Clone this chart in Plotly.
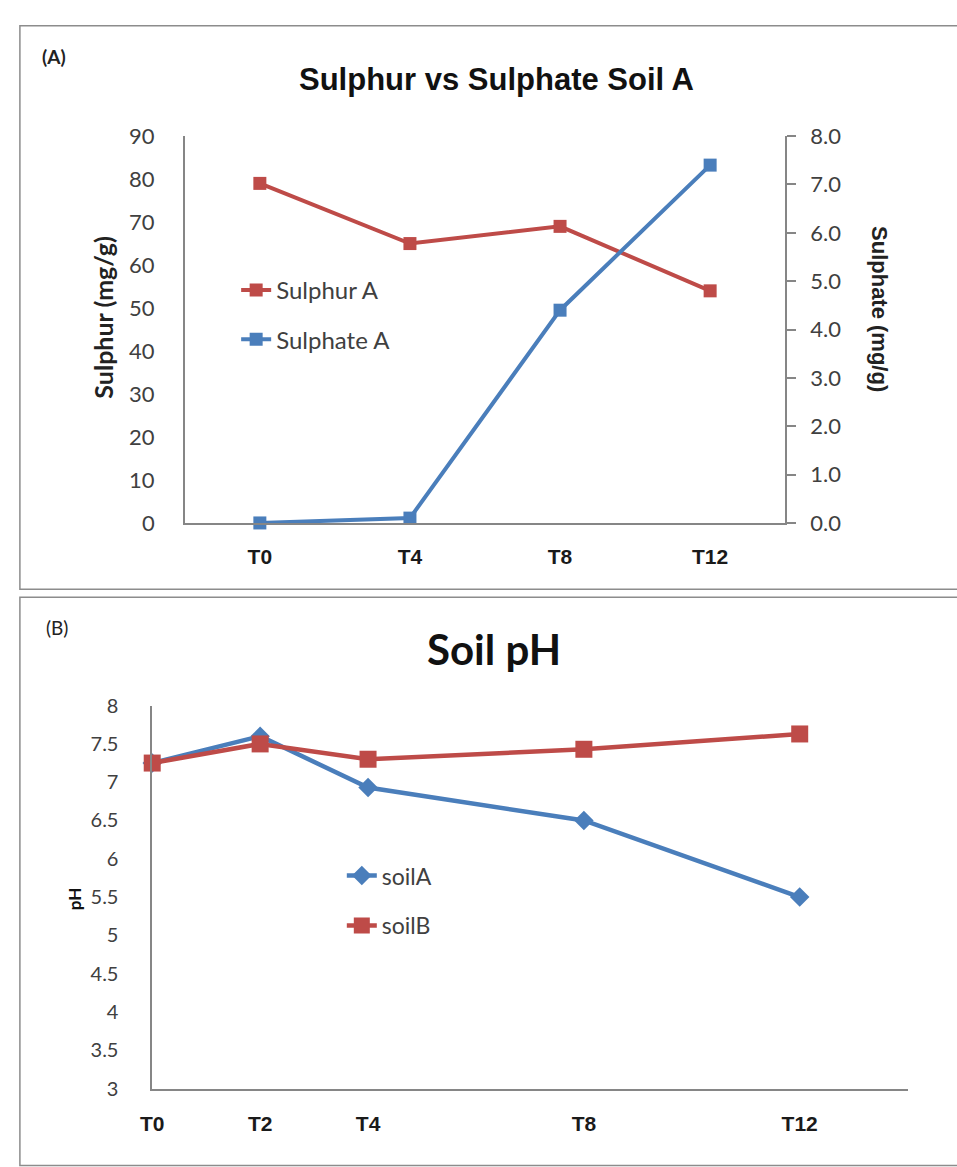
import plotly.graph_objects as go

W, H = 957, 1167

# ---- data ----
times_a = ["T0", "T4", "T8", "T12"]
sulphur_a = [79, 65, 69, 54]
sulphate_a = [0.0, 0.1, 4.4, 7.4]

times_b = [0, 2, 4, 8, 12]
time_labels_b = ["T0", "T2", "T4", "T8", "T12"]
soil_a_ph = [7.25, 7.6, 6.93, 6.5, 5.5]
soil_b_ph = [7.25, 7.5, 7.3, 7.43, 7.63]

RED = "#BE4B48"
BLUE = "#4A7EBB"
AXC = "#868686"
TXT = "#404040"


def px(x):
    return x / W


def py(y):
    return 1 - y / H


def note(text, x, y, size, family="Lato", color="#222", angle=0):
    return dict(text=text, x=px(x), y=py(y), xref="paper", yref="paper",
                xanchor="center", yanchor="middle", showarrow=False,
                textangle=angle, font=dict(family=family, size=size, color=color))


fig = go.Figure()

fig.add_trace(go.Scatter(
    x=times_a, y=sulphur_a, name="Sulphur A", mode="lines+markers",
    line=dict(color=RED, width=4), marker=dict(symbol="square", size=13, color=RED),
    xaxis="x", yaxis="y", legend="legend", legendgroup="a1", cliponaxis=False))
fig.add_trace(go.Scatter(
    x=times_a, y=sulphate_a, name="Sulphate A", mode="lines+markers",
    line=dict(color=BLUE, width=4), marker=dict(symbol="square", size=13, color=BLUE),
    xaxis="x", yaxis="y2", legend="legend", legendgroup="a2", cliponaxis=False))

fig.add_trace(go.Scatter(
    x=times_b, y=soil_a_ph, name="soilA", mode="lines+markers",
    line=dict(color=BLUE, width=4.5), marker=dict(symbol="diamond", size=15, color=BLUE),
    xaxis="x3", yaxis="y3", legend="legend2", legendgroup="b1", cliponaxis=False))
fig.add_trace(go.Scatter(
    x=times_b, y=soil_b_ph, name="soilB", mode="lines+markers",
    line=dict(color=RED, width=4.5), marker=dict(symbol="square", size=17, color=RED),
    xaxis="x3", yaxis="y3", legend="legend2", legendgroup="b2", cliponaxis=False))

tickfont = dict(family="Lato", size=22, color=TXT)
xtickfont = dict(family="Liberation Sans", size=21, color="#1a1a1a", weight="bold")

fig.update_layout(
    width=W, height=H, margin=dict(l=0, r=0, t=0, b=0),
    paper_bgcolor="white", plot_bgcolor="white",
    font=dict(family="Lato", color=TXT),
    xaxis=dict(domain=[px(175), px(783)], anchor="y", type="category",
               range=[-0.5, 3.5], showline=True, linecolor=AXC, linewidth=1.5,
               showgrid=False, zeroline=False, ticks="", tickfont=xtickfont,
               ticklabelstandoff=14),
    yaxis=dict(domain=[py(521), py(125)], anchor="x", range=[0, 90], dtick=10,
               showline=True, linecolor=AXC, linewidth=1.5, showgrid=False,
               zeroline=False, ticks="", tickfont=tickfont, ticklabelstandoff=24),
    yaxis2=dict(domain=[py(521), py(125)], anchor="x", overlaying="y", side="right",
                range=[0, 8], dtick=1, tickformat=".1f", showline=True, linecolor=AXC,
                linewidth=1.5, showgrid=False, zeroline=False, ticks="outside",
                ticklen=9, tickcolor=AXC, tickwidth=1.5, tickfont=tickfont,
                ticklabelstandoff=10),
    xaxis3=dict(domain=[px(142), px(907)], anchor="y3", range=[0, 14],
                tickvals=times_b, ticktext=time_labels_b, showline=True,
                linecolor=AXC, linewidth=1.5, showgrid=False, zeroline=False,
                ticks="", tickfont=xtickfont, ticklabelstandoff=15),
    yaxis3=dict(domain=[py(1100), py(708)], anchor="x3", range=[3, 8], dtick=0.5,
                tickformat="~g", showline=True, linecolor=AXC, linewidth=1.5,
                showgrid=False, zeroline=False, ticks="",
                tickfont=dict(family="Lato", size=20, color=TXT),
                ticklabelstandoff=28),
    legend=dict(x=px(227), y=py(260), xanchor="left", yanchor="top",
                bgcolor="rgba(0,0,0,0)", font=dict(family="Lato", size=24, color=TXT),
                tracegroupgap=15, itemwidth=30),
    legend2=dict(x=px(334), y=py(860), xanchor="left", yanchor="top",
                 bgcolor="rgba(0,0,0,0)", font=dict(family="Lato", size=23, color=TXT),
                 tracegroupgap=17, itemwidth=30),
    shapes=[
        dict(type="rect", xref="paper", yref="paper", x0=px(8), x1=1.01,
             y0=py(589), y1=py(12), line=dict(color="#8c8c8c", width=1.5)),
        dict(type="rect", xref="paper", yref="paper", x0=px(8), x1=1.01,
             y0=-0.01, y1=py(597), line=dict(color="#8c8c8c", width=1.5)),
    ],
    annotations=[
        note("<b>(A)</b>", 43, 43, 19),
        note("<b>Sulphur vs Sulphate Soil A</b>", 491, 67, 31,
             family="Liberation Sans", color="#111"),
        note("<b>Sulphur (mg/g)</b>", 92, 310, 25, angle=-90),
        note("<b>Sulphate (mg/g)</b>", 879, 302, 22, family="Liberation Sans", angle=90),
        note("(B)", 46, 628, 19),
        note("<b>Soil pH</b>", 488, 650, 42, color="#111"),
        note("<b>pH</b>", 63, 906, 17, color="#111", angle=-90),
    ],
)

fig.write_html("out.html")
